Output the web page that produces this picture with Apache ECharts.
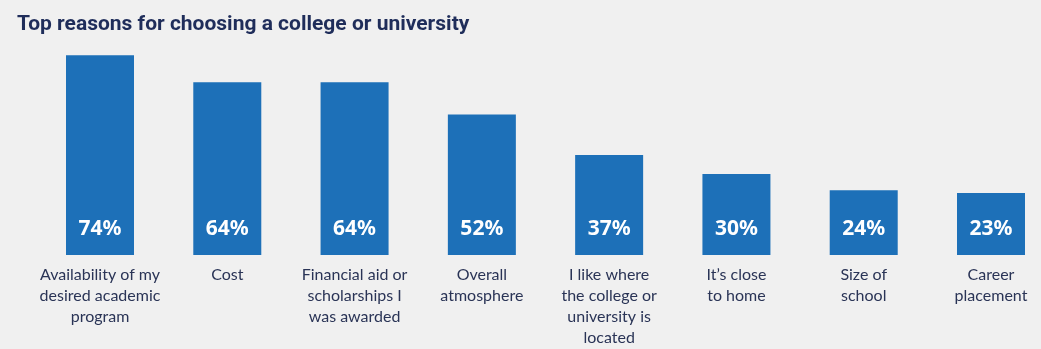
<!DOCTYPE html>
<html>
<head>
<meta charset="utf-8">
<script src="https://cdn.jsdelivr.net/npm/echarts@6/dist/echarts.min.js"></script>
<style>
  html, body { margin: 0; padding: 0; background: #f0f0f0; }
  #chart { width: 1041px; height: 349px; }
</style>
</head>
<body>
<div id="chart"></div>
<script>
// Reasons and share of respondents naming each one (percent)
const reasons = [
  "Availability of my\ndesired academic\nprogram",
  "Cost",
  "Financial aid or\nscholarships I\nwas awarded",
  "Overall\natmosphere",
  "I like where\nthe college or\nuniversity is\nlocated",
  "It\u2019s close\nto home",
  "Size of\nschool",
  "Career\nplacement"
];
const shares = [74, 64, 64, 52, 37, 30, 24, 23];

const chart = echarts.init(document.getElementById('chart'), null, { renderer: 'canvas' });

chart.setOption({
  backgroundColor: '#f0f0f0',
  animation: false,
  title: {
    text: 'Top reasons for choosing a college or university',
    left: 12,
    top: 9,
    textStyle: {
      fontFamily: 'Roboto',
      fontWeight: 'bold',
      fontSize: 21,
      color: '#1f2d5a'
    }
  },
  // categories sit on the axis ends, so the first and last bars are centred on the grid edges
  grid: { left: 100, right: 50, top: 39, bottom: 94 },
  xAxis: {
    type: 'category',
    data: reasons,
    boundaryGap: false,
    axisLine: { show: false },
    axisTick: { show: false },
    axisLabel: {
      interval: 0,
      margin: 9,
      fontFamily: 'Lato',
      fontSize: 16,
      lineHeight: 21,
      color: '#2a3456'
    }
  },
  yAxis: {
    type: 'value',
    min: 0,
    max: 80,
    show: false
  },
  series: [{
    type: 'bar',
    data: shares,
    barWidth: 68,
    clip: false,
    itemStyle: { color: '#1d70b8' },
    label: {
      show: true,
      position: 'insideBottom',
      distance: 15,
      formatter: '{c}%',
      fontFamily: 'Noto Sans',
      fontWeight: 'bold',
      fontSize: 21,
      color: '#ffffff'
    }
  }]
});
</script>
</body>
</html>
